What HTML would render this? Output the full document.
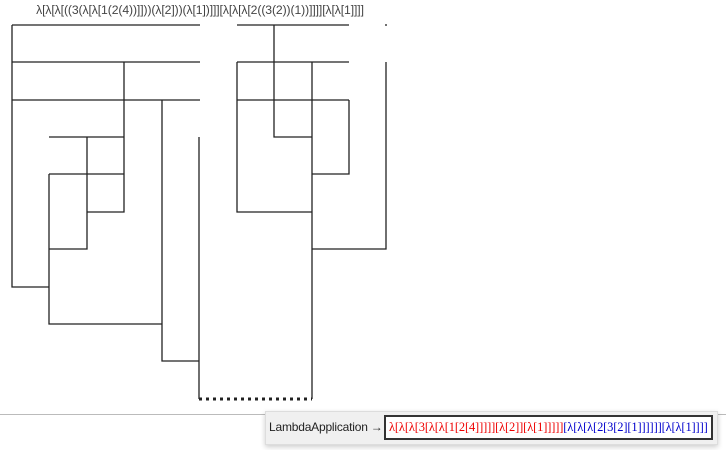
<!DOCTYPE html>
<html><head><style>
body{margin:0;width:726px;height:450px;background:#fff;position:relative;overflow:hidden;font-family:"Liberation Sans",sans-serif}
.top{position:absolute;left:0;width:400px;top:3px;text-align:center;font-size:12.2px;color:#444;letter-spacing:-0.1px;white-space:nowrap}
.hl{position:absolute;left:0;top:414px;width:726px;height:1px;background:#bbb}
.panel{position:absolute;left:265px;top:411px;width:451px;height:32px;background:#f0f0f0;border:1px solid #ddd;box-shadow:0 2px 5px rgba(0,0,0,.2)}
.lab{position:absolute;left:3px;top:8px;font-size:12px;color:#222;white-space:nowrap;letter-spacing:-0.2px}
.box{position:absolute;left:118px;top:3px;width:322px;height:21px;border:2px solid #333;background:#fff;font-family:"Liberation Serif",serif;font-size:12.5px;line-height:21px;padding-left:3px;white-space:nowrap;letter-spacing:-0.15px;overflow:hidden;box-sizing:content-box}
.r{color:#e00}.b{color:#00c}
</style></head><body>
<div class="top">λ[λ[λ[((3(λ[λ[1(2(4))]]))(λ[2]))(λ[1])]]][λ[λ[λ[2((3(2))(1))]]]][λ[λ[1]]]]</div>
<svg width="726" height="410" style="position:absolute;left:0;top:0" stroke="#222" stroke-width="1.3" fill="none">
<path d="M12 25H200M12 62H200M12 100H200M12 25V287H49M124 62V212H87M49 137H124M87 137V249H49M49 174H124M49 174V324H162M162 100V361H199M199 137V399M312 62V399M237 25H349M274 25V137H312M237 62H349M237 62V212H312M237 100H349M349 100V174H312M386 62V249H312"/>
<path d="M385 25H387" />
<path d="M199 399H312" stroke-width="3" stroke-dasharray="3 4"/>
</svg>
<div class="hl"></div>
<div class="panel"><div class="lab">LambdaApplication →</div>
<div class="box"><span class="r">λ[λ[λ[3[λ[λ[1[2[4]]]]][λ[2]][λ[1]]]]]</span><span class="b">[λ[λ[λ[2[3[2][1]]]]]][λ[λ[1]]]]</span></div></div>
</body></html>
